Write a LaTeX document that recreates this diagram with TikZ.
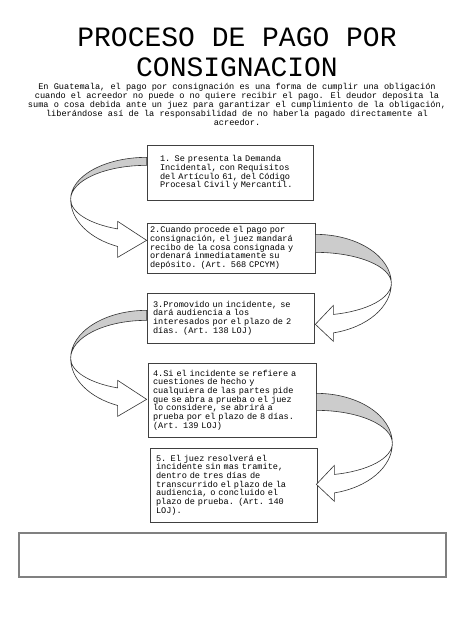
\documentclass[tikz,border=0pt]{standalone}
\usepackage{fontspec}
\usepackage{tikz}
\usetikzlibrary{calc}
\newfontfamily\courier[WordSpace={1,0,0}]{Liberation Mono}
\def\stepnode{\node[draw=black!75,line width=0.7pt,fill=white,align=left,inner ysep=0pt,font=\courier\fontsize{8.6}{8.7}\selectfont]}
\tikzset{ribbonback/.style={draw=black!80,line width=0.6pt,fill=black!20},
  ribbonfront/.style={draw=black!80,line width=0.6pt,fill=white}}

% curved ribbon arrow: pivot, side (1 left, -1 right), head offset, outer and inner radius of the back
\newcommand{\ribbon}[5]{%
\begin{scope}[shift={(#1)},xscale=#2]
\draw[ribbonback] (0,#4) arc[start angle=90,end angle=180,x radius=76pt,y radius=#4pt]
  arc[start angle=180,end angle=90,x radius=76pt,y radius=#5pt] -- cycle;
\pgfmathsetmacro\turn{180+acos(#3/76)}
\draw[ribbonfront] (-76,0) arc[start angle=180,end angle=\turn,x radius=76pt,y radius=51pt]
  -- (-#3,-58) -- (0,-41) -- (-#3,-22) -- ({76*cos(\turn)},{32*sin(\turn)})
  arc[start angle=\turn,end angle=180,x radius=76pt,y radius=32pt] -- cycle;
\end{scope}}

\begin{document}
\begin{tikzpicture}[x=1pt,y=1pt]
\useasboundingbox[fill=white] (0,0) rectangle (474,632);

\node[font=\courier\fontsize{28}{30}\selectfont,align=center] (title) at (237,580) {PROCESO DE PAGO POR\\CONSIGNACION};
\node[font=\courier\fontsize{8.6}{9}\selectfont,align=center] (intro) at (237,528)
  {En Guatemala, el pago por consignación es una forma de cumplir una obligación\\
   cuando el acreedor no puede o no quiere recibir el pago. El deudor deposita la\\
   suma o cosa debida ante un juez para garantizar el cumplimiento de la obligación,\\
   liberándose así de la responsabilidad de no haberla pagado directamente al\\
   acreedor.};

% the five steps
\stepnode[text width=140pt,inner xsep=13pt,minimum height=55pt] (s1) at (230,459.5)
  {1. Se presenta la Demanda\\Incidental, con Requisitos\\del Artículo 61, del Código\\Procesal Civil y Mercantil.};
\stepnode[text width=162pt,inner xsep=3pt,minimum height=50pt] (s2) at (231,384)
  {2.Cuando procede el pago por\\consignación, el juez mandará\\recibo de la cosa consignada y\\ordenará inmediatamente su\\depósito. (Art. 568 CPCYM)};
\stepnode[text width=155pt,inner xsep=6pt,minimum height=50pt] (s3) at (230.5,314)
  {3.Promovido un incidente, se\\dará audiencia a los\\interesados por el plazo de 2\\días. (Art. 138 LOJ)};
\stepnode[text width=158pt,inner xsep=5pt,minimum height=74pt] (s4) at (232,232)
  {4.Si el incidente se refiere a\\cuestiones de hecho y\\cualquiera de las partes pide\\que se abra a prueba o el juez\\lo considere, se abrirá a\\prueba por el plazo de 8 días.\\(Art. 139 LOJ)};
\stepnode[text width=155pt,inner xsep=6pt,minimum height=74pt] (s5) at (233.5,147)
  {5. El juez resolverá el\\incidente sin mas tramite,\\dentro de tres días de\\transcurrido el plazo de la\\audiencia, o concluido el\\plazo de prueba. (Art. 140\\LOJ).};

% empty box at the bottom
\node[draw=black!50,line width=1.2pt,minimum width=427pt,minimum height=44pt] (note) at (232.5,77) {};

% curved arrows between the steps
\coordinate (p1) at ($ (s1.south west) + (0,1) $);
\coordinate (p2) at ($ (s2.south east) + (0,-10) $);
\coordinate (p3) at ($ (s3.south west) + (0,-15) $);
\coordinate (p4) at ($ (s4.south east) + (0,-6) $);
\ribbon{p1}{1}{29}{42}{34}
\ribbon{p2}{-1}{18}{49}{31}
\ribbon{p3}{1}{29}{48}{38}
\ribbon{p4}{-1}{18}{50}{33}
\end{tikzpicture}
\end{document}
